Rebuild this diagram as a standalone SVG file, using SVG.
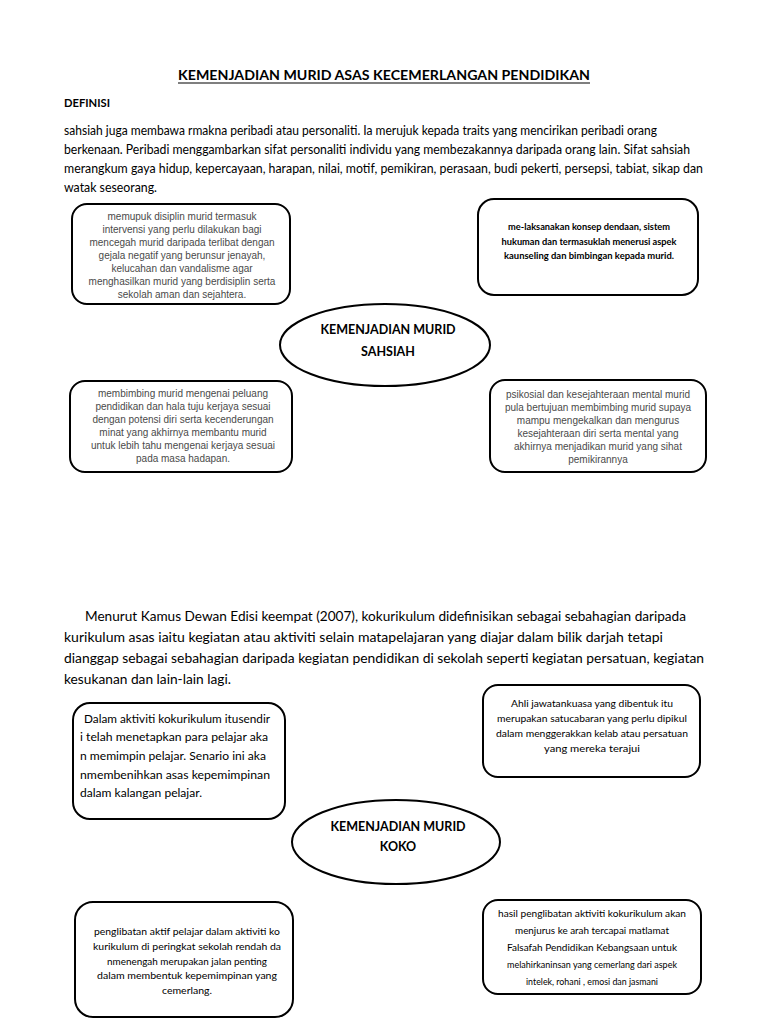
<svg xmlns="http://www.w3.org/2000/svg" width="768" height="1024" viewBox="0 0 768 1024">
<style>
.bg{fill:#ffffff}
.box{fill:#ffffff;stroke:#000;stroke-width:2}
.c{font-family:Lato,"Open Sans","Liberation Sans",sans-serif;fill:#000}
.a{font-family:"Liberation Sans",Arial,sans-serif;fill:#4a4a4a;font-size:10px;text-anchor:middle}
.b{font-weight:bold}
.m{text-anchor:middle}
</style>
<rect class="bg" x="0" y="0" width="768" height="1024"/>
<g id="header">
<text class="c b m" x="384" y="80" font-size="14" textLength="412" lengthAdjust="spacingAndGlyphs">KEMENJADIAN MURID ASAS KECEMERLANGAN PENDIDIKAN</text>
<line x1="178" y1="83" x2="590" y2="83" stroke="#000" stroke-width="1.2"/>
<text class="c b" x="64" y="107" font-size="11" textLength="46" lengthAdjust="spacingAndGlyphs">DEFINISI</text>
<g class="c" font-size="12.5">
<text x="64" y="135" textLength="593" lengthAdjust="spacingAndGlyphs">sahsiah juga membawa rmakna peribadi atau personaliti. Ia merujuk kepada traits yang mencirikan peribadi orang</text>
<text x="64" y="154" textLength="626" lengthAdjust="spacingAndGlyphs">berkenaan. Peribadi menggambarkan sifat personaliti individu yang membezakannya daripada orang lain. Sifat sahsiah</text>
<text x="64" y="173" textLength="639" lengthAdjust="spacingAndGlyphs">merangkum gaya hidup, kepercayaan, harapan, nilai, motif, pemikiran, perasaan, budi pekerti, persepsi, tabiat, sikap dan</text>
<text x="64" y="192" textLength="93" lengthAdjust="spacingAndGlyphs">watak seseorang.</text>
</g>
</g>
<g id="n-disiplin">
<rect class="box" x="72" y="204" width="218" height="100" rx="15"/>
<text class="a" x="182" y="220">memupuk disiplin murid termasuk</text>
<text class="a" x="182" y="233">intervensi yang perlu dilakukan bagi</text>
<text class="a" x="182" y="246">mencegah murid daripada terlibat dengan</text>
<text class="a" x="182" y="259">gejala negatif yang berunsur jenayah,</text>
<text class="a" x="182" y="272">kelucahan dan vandalisme agar</text>
<text class="a" x="182" y="285">menghasilkan murid yang berdisiplin serta</text>
<text class="a" x="182" y="298">sekolah aman dan sejahtera.</text>
</g>
<g id="n-dendaan">
<rect class="box" x="478" y="199" width="220" height="96" rx="16"/>
<g class="c b m" font-size="8.5">
<text x="589" y="230" textLength="162" lengthAdjust="spacingAndGlyphs">me-laksanakan konsep dendaan, sistem</text>
<text x="589" y="245" textLength="175" lengthAdjust="spacingAndGlyphs">hukuman dan termasuklah menerusi aspek</text>
<text x="589" y="259" textLength="170" lengthAdjust="spacingAndGlyphs">kaunseling dan bimbingan kepada murid.</text>
</g>
</g>
<g id="n-sahsiah">
<ellipse class="box" cx="385" cy="345" rx="105" ry="41"/>
<text class="c b m" x="388" y="334" font-size="12.5">KEMENJADIAN MURID</text>
<text class="c b m" x="388" y="356" font-size="12.5">SAHSIAH</text>
</g>
<g id="n-kerjaya">
<rect class="box" x="70" y="381" width="222" height="91" rx="15"/>
<text class="a" x="183" y="397">membimbing murid mengenai peluang</text>
<text class="a" x="183" y="410">pendidikan dan hala tuju kerjaya sesuai</text>
<text class="a" x="183" y="423">dengan potensi diri serta kecenderungan</text>
<text class="a" x="183" y="436">minat yang akhirnya membantu murid</text>
<text class="a" x="183" y="449">untuk lebih tahu mengenai kerjaya sesuai</text>
<text class="a" x="183" y="462">pada masa hadapan.</text>
</g>
<g id="n-psikosial">
<rect class="box" x="490" y="380" width="216" height="92" rx="15"/>
<text class="a" x="598" y="398">psikosial dan kesejahteraan mental murid</text>
<text class="a" x="598" y="411">pula bertujuan membimbing murid supaya</text>
<text class="a" x="598" y="424">mampu mengekalkan dan mengurus</text>
<text class="a" x="598" y="437">kesejahteraan diri serta mental yang</text>
<text class="a" x="598" y="450">akhirnya menjadikan murid yang sihat</text>
<text class="a" x="598" y="463">pemikirannya</text>
</g>
<g id="para2" class="c" font-size="14">
<text x="85" y="621" textLength="601" lengthAdjust="spacingAndGlyphs">Menurut Kamus Dewan Edisi keempat (2007), kokurikulum didefinisikan sebagai sebahagian daripada</text>
<text x="64" y="642" textLength="599" lengthAdjust="spacingAndGlyphs">kurikulum asas iaitu kegiatan atau aktiviti selain matapelajaran yang diajar dalam bilik darjah tetapi</text>
<text x="64" y="663" textLength="640" lengthAdjust="spacingAndGlyphs">dianggap sebagai sebahagian daripada kegiatan pendidikan di sekolah seperti kegiatan persatuan, kegiatan</text>
<text x="64" y="684" textLength="167" lengthAdjust="spacingAndGlyphs">kesukanan dan lain-lain lagi.</text>
</g>
<g id="n-dalam">
<rect class="box" x="73" y="703" width="212" height="116" rx="17"/>
<g class="c" font-size="12">
<text x="84" y="723" textLength="186" lengthAdjust="spacingAndGlyphs">Dalam aktiviti kokurikulum itusendir</text>
<text x="80" y="741" textLength="188" lengthAdjust="spacingAndGlyphs">i telah menetapkan para pelajar aka</text>
<text x="80" y="760" textLength="186" lengthAdjust="spacingAndGlyphs">n memimpin pelajar. Senario ini aka</text>
<text x="80" y="779" textLength="190" lengthAdjust="spacingAndGlyphs">nmembenihkan asas kepemimpinan</text>
<text x="80" y="797" textLength="122" lengthAdjust="spacingAndGlyphs">dalam kalangan pelajar.</text>
</g>
</g>
<g id="n-ahli">
<rect class="box" x="483" y="685" width="217" height="92" rx="15"/>
<g class="c m" font-size="9">
<text x="592" y="707" textLength="162" lengthAdjust="spacingAndGlyphs">Ahli jawatankuasa yang dibentuk itu</text>
<text x="592" y="722" textLength="190" lengthAdjust="spacingAndGlyphs">merupakan satucabaran yang perlu dipikul</text>
<text x="592" y="737" textLength="192" lengthAdjust="spacingAndGlyphs">dalam menggerakkan kelab atau persatuan</text>
<text x="592" y="752" textLength="96" lengthAdjust="spacingAndGlyphs">yang mereka terajui</text>
</g>
</g>
<g id="n-koko">
<ellipse class="box" cx="396" cy="842" rx="104" ry="42"/>
<text class="c b m" x="398" y="831" font-size="12.5">KEMENJADIAN MURID</text>
<text class="c b m" x="398" y="851" font-size="12.5">KOKO</text>
</g>
<g id="n-penglibatan">
<rect class="box" x="75" y="902" width="218" height="115" rx="18"/>
<g class="c m" font-size="9.5">
<text x="187" y="935" textLength="186" lengthAdjust="spacingAndGlyphs">penglibatan aktif pelajar dalam aktiviti ko</text>
<text x="187" y="950" textLength="188" lengthAdjust="spacingAndGlyphs">kurikulum di peringkat sekolah rendah da</text>
<text x="187" y="965" textLength="160" lengthAdjust="spacingAndGlyphs">nmenengah merupakan jalan penting</text>
<text x="187" y="979" textLength="180" lengthAdjust="spacingAndGlyphs">dalam membentuk kepemimpinan yang</text>
<text x="187" y="994" textLength="50" lengthAdjust="spacingAndGlyphs">cemerlang.</text>
</g>
</g>
<g id="n-hasil">
<rect class="box" x="483" y="900" width="218" height="94" rx="15"/>
<g class="c m" font-size="9.5">
<text x="592" y="917" textLength="188" lengthAdjust="spacingAndGlyphs">hasil penglibatan aktiviti kokurikulum akan</text>
<text x="592" y="934" textLength="154" lengthAdjust="spacingAndGlyphs">menjurus ke arah tercapai matlamat</text>
<text x="592" y="951" textLength="170" lengthAdjust="spacingAndGlyphs">Falsafah Pendidikan Kebangsaan untuk</text>
<text x="592" y="968" textLength="170" lengthAdjust="spacingAndGlyphs">melahirkaninsan yang cemerlang dari aspek</text>
<text x="592" y="985" textLength="132" lengthAdjust="spacingAndGlyphs">intelek, rohani , emosi dan jasmani</text>
</g>
</g>
<g id="connectors"></g>
</svg>
